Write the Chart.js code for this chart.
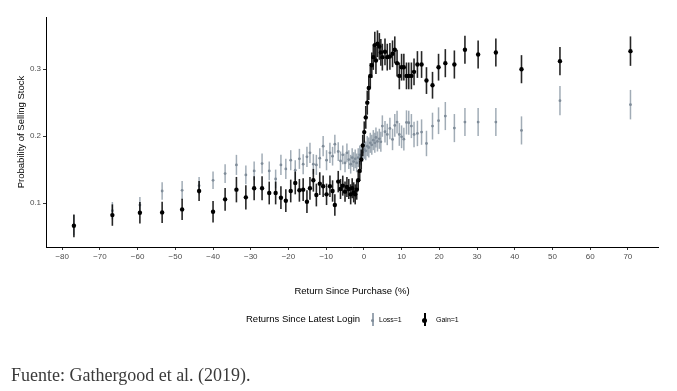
<!DOCTYPE html>
<html><head><meta charset="utf-8">
<script src="https://cdn.jsdelivr.net/npm/chart.js@4.4.0/dist/chart.umd.min.js"></script>
<style>
html,body{margin:0;padding:0;background:#fff;width:677px;height:391px;overflow:hidden;}
#wrap{position:relative;width:677px;height:391px;}
#c{position:absolute;left:0;top:0;}
.lg{position:absolute;font-family:"Liberation Sans",Arial,sans-serif;color:#000;white-space:nowrap;line-height:1;}
.mk{position:absolute;}
.mk .bar{position:absolute;left:0;top:0;width:1.5px;height:13px;}
.mk .dot{position:absolute;border-radius:50%;}
#caption{position:absolute;left:11px;top:366px;font-family:"Liberation Serif","Times New Roman",serif;font-size:18px;color:#3a3a3a;white-space:nowrap;line-height:1;}
</style>
</head><body>
<div id="wrap">
<canvas id="c" width="677" height="391"></canvas>
<div class="lg" id="lgTitle" style="left:246px;top:314px;font-size:9.5px;">Returns Since Latest Login</div>
<div class="mk" style="left:372px;top:313px;"><div class="bar" style="background:#9aa5b1"></div><div class="dot" style="left:-0.75px;top:5.5px;width:3px;height:3px;background:#7f8c99"></div></div>
<div class="lg" style="left:379px;top:316px;font-size:7px;">Loss=1</div>
<div class="mk" style="left:424px;top:313px;"><div class="bar" style="background:#000;width:1.8px"></div><div class="dot" style="left:-1.6px;top:4.5px;width:5px;height:5px;background:#000"></div></div>
<div class="lg" style="left:436px;top:316px;font-size:7px;">Gain=1</div>
<div id="caption">Fuente: Gathergood et al. (2019).</div>
</div>
<script>
// ---- data ----
const returnBins = [-76.9,-66.7,-59.4,-53.5,-48.2,-43.7,-40.0,-36.8,-33.8,-31.3,-29.1,-27.0,-25.1,-23.4,-22.0,-20.7,-19.4,-18.2,-17.1,-16.1,-15.1,-14.3,-13.4,-12.6,-11.7,-10.8,-9.9,-9.0,-8.3,-7.7,-6.8,-6.2,-5.6,-5.0,-4.5,-4.0,-3.5,-3.1,-2.7,-2.3,-1.9,-1.5,-1.1,-0.7,-0.3,0.1,0.5,0.9,1.3,1.7,2.1,2.5,2.9,3.2,3.6,4.1,4.5,4.9,5.6,6.2,6.9,7.6,8.2,8.8,9.4,10.0,10.6,11.3,11.9,12.6,13.3,14.2,15.3,16.6,18.2,19.8,21.6,24.0,26.8,30.3,35.0,41.8,52.0,70.7];

const lossProb = [0.067,0.0885,0.097,0.118,0.119,0.126,0.134,0.144,0.157,0.142,0.148,0.159,0.148,0.136,0.157,0.151,0.164,0.149,0.166,0.158,0.169,0.175,0.158,0.157,0.167,0.185,0.164,0.175,0.170,0.188,0.177,0.163,0.172,0.160,0.175,0.165,0.158,0.168,0.162,0.166,0.160,0.168,0.172,0.170,0.176,0.180,0.178,0.185,0.183,0.190,0.187,0.194,0.190,0.198,0.192,0.196,0.1915,0.215,0.2065,0.2025,0.2115,0.195,0.216,0.221,0.2025,0.199,0.1955,0.2205,0.220,0.215,0.2025,0.204,0.206,0.189,0.215,0.223,0.230,0.212,0.221,0.221,0.221,0.2085,0.253,0.247];
const lossErr = [0.015,0.013,0.012,0.013,0.014,0.013,0.013,0.014,0.015,0.014,0.014,0.015,0.014,0.014,0.015,0.015,0.015,0.015,0.015,0.015,0.015,0.015,0.015,0.015,0.015,0.015,0.015,0.015,0.014,0.014,0.014,0.014,0.014,0.014,0.014,0.014,0.014,0.014,0.014,0.014,0.014,0.014,0.014,0.014,0.014,0.014,0.014,0.015,0.015,0.015,0.015,0.015,0.015,0.015,0.015,0.015,0.015,0.016,0.016,0.016,0.016,0.016,0.017,0.017,0.017,0.017,0.017,0.018,0.018,0.018,0.019,0.019,0.019,0.019,0.020,0.020,0.021,0.021,0.021,0.021,0.021,0.021,0.022,0.022];

const gainProb = [0.066,0.082,0.0855,0.086,0.0905,0.118,0.087,0.1055,0.120,0.1085,0.122,0.122,0.115,0.115,0.108,0.1035,0.118,0.130,0.119,0.120,0.102,0.122,0.134,0.112,0.129,0.125,0.113,0.125,0.118,0.097,0.132,0.121,0.126,0.117,0.124,0.121,0.113,0.122,0.116,0.113,0.120,0.134,0.148,0.165,0.186,0.206,0.228,0.250,0.272,0.290,0.306,0.318,0.336,0.313,0.338,0.334,0.325,0.318,0.326,0.318,0.319,0.323,0.329,0.309,0.290,0.303,0.303,0.290,0.290,0.290,0.296,0.307,0.307,0.283,0.276,0.303,0.309,0.307,0.329,0.322,0.325,0.300,0.312,0.327];
const gainErr = [0.017,0.016,0.016,0.016,0.016,0.015,0.016,0.017,0.019,0.018,0.018,0.018,0.017,0.017,0.017,0.017,0.017,0.017,0.017,0.017,0.017,0.017,0.017,0.017,0.017,0.016,0.016,0.016,0.016,0.016,0.016,0.015,0.015,0.015,0.015,0.015,0.015,0.015,0.015,0.015,0.015,0.015,0.015,0.015,0.016,0.016,0.017,0.018,0.018,0.019,0.019,0.019,0.020,0.020,0.020,0.020,0.020,0.020,0.020,0.020,0.020,0.020,0.020,0.020,0.020,0.020,0.020,0.020,0.020,0.020,0.020,0.020,0.020,0.020,0.020,0.020,0.021,0.021,0.021,0.021,0.021,0.021,0.021,0.022];

const xTicks = [-80,-70,-60,-50,-40,-30,-20,-10,0,10,20,30,40,50,60,70];
const xTickLabels = ['\u221280','\u221270','\u221260','\u221250','\u221240','\u221230','\u221220','\u221210','0','10','20','30','40','50','60','70'];
const yTicks = [0.1,0.2,0.3];
const yTickLabels = ['0.1','0.2','0.3'];

const seriesNames = ['Loss=1','Gain=1'];
const xTitle = 'Return Since Purchase (%)';
const yTitle = 'Probability of Selling Stock';

function pts(p, e){ return returnBins.map((x,i)=>({x:x, y:p[i], e:e[i]})); }

const errorBars = {
  id:'errorBars',
  beforeDatasetDraw(chart, args){
    const ds = chart.data.datasets[args.index];
    const xs = chart.scales.x, ys = chart.scales.y, ctx = chart.ctx;
    ctx.save();
    ctx.strokeStyle = ds.errColor;
    ctx.lineWidth = ds.errWidth;
    ds.data.forEach(d=>{
      const px = xs.getPixelForValue(d.x);
      ctx.beginPath();
      ctx.moveTo(px, ys.getPixelForValue(d.y - d.e));
      ctx.lineTo(px, ys.getPixelForValue(d.y + d.e));
      ctx.stroke();
    });
    ctx.restore();
  }
};

const tickFont = {family:'"Liberation Sans", Arial, sans-serif', size:8};
const titleFont = {family:'"Liberation Sans", Arial, sans-serif', size:9.5};

new Chart(document.getElementById('c'), {
  type:'scatter',
  data:{datasets:[
    {label:seriesNames[0], data:pts(lossProb,lossErr), order:2,
     pointRadius:1.4, pointBackgroundColor:'#7f8c99', pointBorderWidth:0,
     errColor:'rgba(130,144,158,0.75)', errWidth:1.5},
    {label:seriesNames[1], data:pts(gainProb,gainErr), order:1,
     pointRadius:2.2, pointBackgroundColor:'#000', pointBorderWidth:0,
     errColor:'rgba(0,0,0,0.85)', errWidth:1.6}
  ]},
  options:{
    responsive:false, animation:false, devicePixelRatio:1,
    layout:{padding:{top:17,right:19,left:0,bottom:0}},
    plugins:{legend:{display:false}, tooltip:{enabled:false}},
    scales:{
      x:{type:'linear', min:-84.3, max:78,
        afterBuildTicks:(a)=>{a.ticks = xTicks.map(v=>({value:v}));},
        afterFit:(s)=>{s.height=144;},
        ticks:{font:tickFont, color:'#4d4d4d', padding:2, maxRotation:0, autoSkip:false,
          callback:(v,i)=>xTickLabels[i]},
        grid:{display:true, drawOnChartArea:false, drawTicks:true, tickLength:3, color:'#333'},
        border:{display:true, color:'#000', width:1},
        title:{display:true, text:xTitle, font:titleFont, color:'#000', padding:{top:0,bottom:94}}
      },
      y:{type:'linear', min:0.0343, max:0.378,
        afterBuildTicks:(a)=>{a.ticks = yTicks.map(v=>({value:v}));},
        afterFit:(s)=>{s.width=46;},
        ticks:{font:tickFont, color:'#4d4d4d', padding:2, autoSkip:false,
          callback:(v,i)=>yTickLabels[i]},
        grid:{display:true, drawOnChartArea:false, drawTicks:true, tickLength:3, color:'#333'},
        border:{display:true, color:'#000', width:1},
        title:{display:true, text:yTitle, font:titleFont, color:'#000', padding:{top:16,bottom:0}}
      }
    }
  },
  plugins:[errorBars]
});
</script>
</body></html>
